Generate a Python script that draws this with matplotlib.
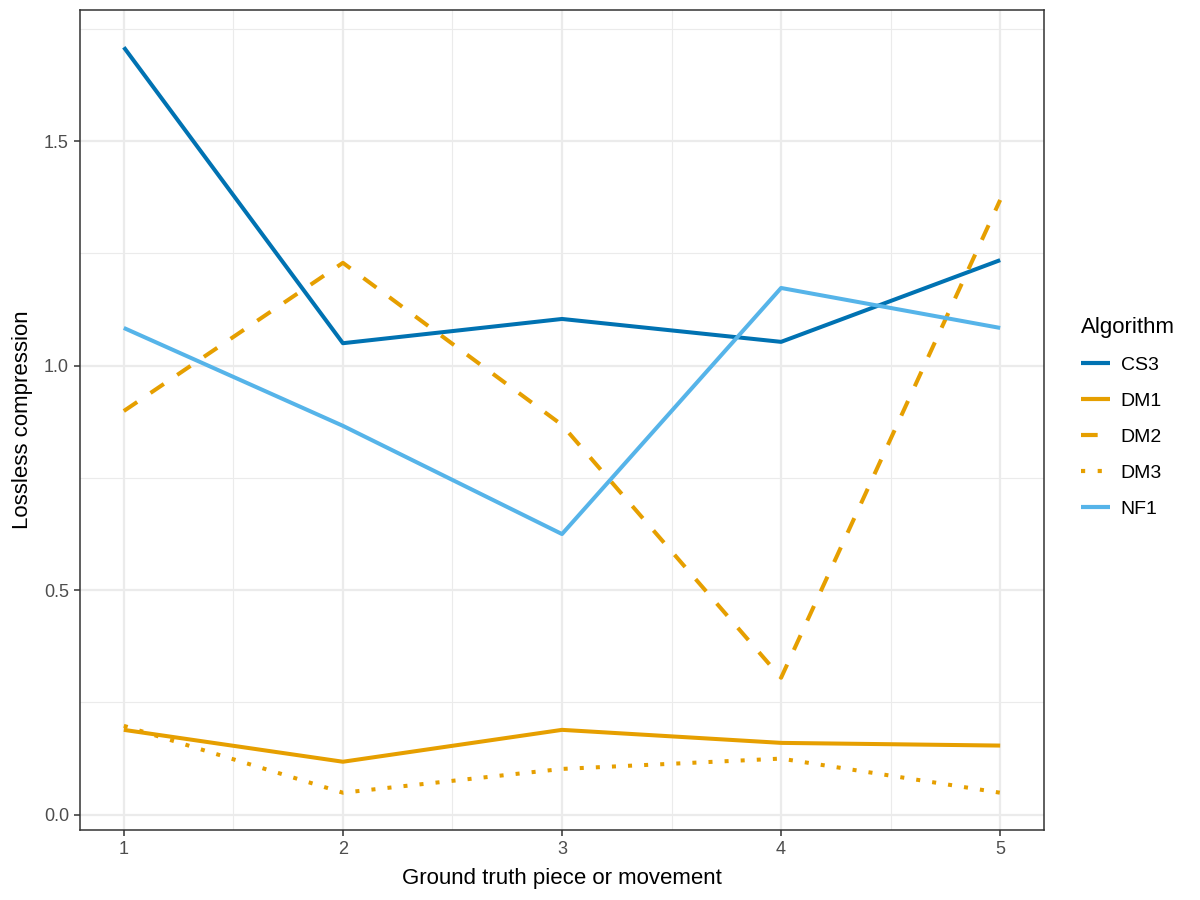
import matplotlib
matplotlib.use("Agg")
import matplotlib.pyplot as plt
from matplotlib.ticker import FixedLocator

x = [1, 2, 3, 4, 5]
algorithms = ["CS3", "DM1", "DM2", "DM3", "NF1"]
cs3 = [1.709, 1.050, 1.104, 1.053, 1.235]
dm1 = [0.189, 0.118, 0.189, 0.160, 0.154]
dm2 = [0.899, 1.229, 0.868, 0.305, 1.369]
dm3 = [0.198, 0.049, 0.102, 0.125, 0.049]
nf1 = [1.084, 0.866, 0.625, 1.173, 1.084]

series = [cs3, dm1, dm2, dm3, nf1]
colors = ["#0072B2", "#E69F00", "#E69F00", "#E69F00", "#56B4E9"]
styles = ["-", "-", (0, (4, 4)), (0, (1, 3)), "-"]

plt.rcParams['font.family'] = ['Liberation Sans', 'DejaVu Sans']

fig = plt.figure(figsize=(12, 9), dpi=100)
ax = fig.add_axes([80/1200, 70/900, (1044-80)/1200, (830-10)/900])

for vals, c, ls, name in zip(series, colors, styles, algorithms):
    ax.plot(x, vals, color=c, linestyle=ls, linewidth=2.9, label=name,
            solid_capstyle='butt', dash_capstyle='butt', zorder=3)

ax.set_xlim(0.8, 5.2)
ymin, ymax = min(min(s) for s in series), max(max(s) for s in series)
pad = (ymax - ymin) * 0.05
ax.set_ylim(ymin - pad, ymax + pad)

ax.xaxis.set_major_locator(FixedLocator([1, 2, 3, 4, 5]))
ax.xaxis.set_minor_locator(FixedLocator([1.5, 2.5, 3.5, 4.5]))
ax.yaxis.set_major_locator(FixedLocator([0.0, 0.5, 1.0, 1.5]))
ax.yaxis.set_minor_locator(FixedLocator([0.25, 0.75, 1.25, 1.75]))
ax.set_yticklabels(["0.0", "0.5", "1.0", "1.5"])

ax.grid(which='major', color='#EBEBEB', linewidth=1.6, zorder=0)
ax.grid(which='minor', color='#EBEBEB', linewidth=0.8, zorder=0)
ax.set_axisbelow(True)

for sp in ax.spines.values():
    sp.set_color('#333333')
    sp.set_linewidth(1.1)

ax.tick_params(which='major', length=4, width=1.1, color='#333333',
               labelcolor='#4D4D4D', labelsize=13, pad=4)
ax.tick_params(which='minor', length=0)

ax.set_xlabel("Ground truth piece or movement", fontsize=16, color='black', labelpad=7)
ax.set_ylabel("Lossless compression", fontsize=16, color='black', labelpad=8)

leg = ax.legend(title="Algorithm", loc='center left', bbox_to_anchor=(1.03, 0.503),
                frameon=False, fontsize=14, title_fontsize=16,
                handlelength=1.5, handletextpad=0.55, labelspacing=0.95,
                borderaxespad=0.0)
leg._legend_box.align = "left"
for line in leg.get_lines():
    line.set_linewidth(3.0)

fig.savefig("out.png", dpi=100)
